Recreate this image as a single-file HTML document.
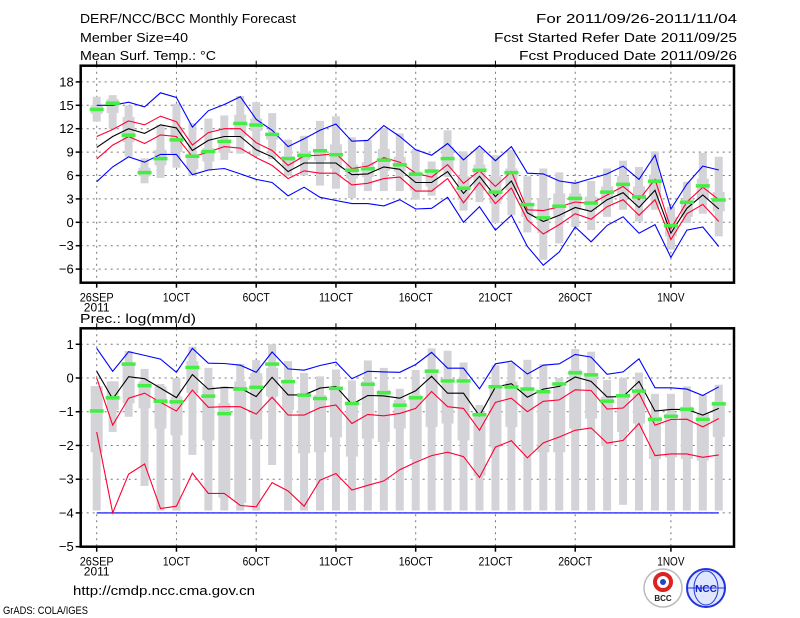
<!DOCTYPE html>
<html><head><meta charset="utf-8"><style>
html,body{margin:0;padding:0;background:#fff;}
svg{display:block;font-family:"Liberation Sans Narrow","Liberation Sans",sans-serif;}
</style></head><body>
<svg id="chart" width="800" height="618" viewBox="0 0 800 618" xmlns="http://www.w3.org/2000/svg">
<rect width="800" height="618" fill="#fff"/>
<g font-size="13" fill="#000">
<text x="80" y="23" textLength="216" lengthAdjust="spacingAndGlyphs">DERF/NCC/BCC Monthly Forecast</text>
<text x="80" y="42" textLength="108" lengthAdjust="spacingAndGlyphs">Member Size=40</text>
<text x="80" y="60" textLength="136" lengthAdjust="spacingAndGlyphs">Mean Surf. Temp.: °C</text>
<text x="536" y="23" textLength="201" lengthAdjust="spacingAndGlyphs">For 2011/09/26-2011/11/04</text>
<text x="494" y="42" textLength="243" lengthAdjust="spacingAndGlyphs">Fcst Started Refer Date 2011/09/25</text>
<text x="519" y="60" textLength="218" lengthAdjust="spacingAndGlyphs">Fcst Produced Date 2011/09/26</text>
<text x="80" y="323" textLength="116" lengthAdjust="spacingAndGlyphs">Prec.: log(mm/d)</text>
<text x="73" y="595" textLength="182" lengthAdjust="spacingAndGlyphs">http://cmdp.ncc.cma.gov.cn</text>
<text x="3" y="614" font-size="11" textLength="85" lengthAdjust="spacingAndGlyphs">GrADS: COLA/IGES</text>
</g>
<g>
<circle cx="663" cy="588" r="19" fill="#fff" stroke="#bbb" stroke-width="1.5"/>
<circle cx="663" cy="582" r="8" fill="none" stroke="#d22" stroke-width="4"/>
<circle cx="663" cy="582" r="3" fill="#2344c8"/>
<text x="663" y="601" font-size="8" text-anchor="middle" fill="#222" font-weight="bold">BCC</text>
</g>
<g>
<circle cx="706" cy="588" r="19" fill="#dfe6ff" stroke="#2233dd" stroke-width="2"/>
<ellipse cx="706" cy="588" rx="12" ry="17" fill="none" stroke="#2233dd" stroke-width="1"/>
<line x1="688" y1="588" x2="724" y2="588" stroke="#2233dd"/>
<text x="706" y="592" font-size="10" text-anchor="middle" fill="#1122cc" font-weight="bold">NCC</text>
</g>
<g id="top"></g>
<g id="bot"></g>
</svg>
<script>
// ---- data: temperature panel ----
const days = [0,1,2,3,4,5,6,7,8,9,10,11,12,13,14,15,16,17,18,19,20,21,22,23,24,25,26,27,28,29,30,31,32,33,34,35,36,37,38,39];
const xTickLabels = ["26SEP","1OCT","6OCT","11OCT","16OCT","21OCT","26OCT","1NOV"];
const xTickDays = [0,5,10,15,20,25,30,36];
const tTicks = [18,15,12,9,6,3,0,-3,-6];
const pTicks = [1,0,-1,-2,-3,-4,-5];
const tBlueHi = [15.0,15.0,15.4,14.8,16.6,16.0,12.2,14.3,15.1,16.1,13.2,11.8,9.7,10.7,11.8,12.6,10.4,10.5,12.4,11.0,9.3,8.6,10.1,8.0,9.8,7.9,9.7,6.3,6.2,5.3,5.0,5.6,6.2,7.2,5.5,8.6,1.7,4.9,7.2,6.7];
const tRedHi = [11.0,11.9,13.0,12.5,13.6,12.9,9.9,11.5,12.0,12.0,10.2,9.2,7.3,8.5,8.6,8.8,6.9,7.2,8.3,7.7,6.3,5.8,7.4,5.0,6.6,4.6,6.5,1.6,1.5,2.0,2.6,2.4,3.5,4.6,2.9,5.5,-0.8,2.6,4.5,2.9];
const tMean = [9.6,11.0,12.0,11.4,12.5,12.1,9.2,10.5,11.0,11.0,9.3,8.4,6.5,7.6,7.6,7.6,6.1,6.2,7.1,6.8,5.1,5.1,6.5,3.7,5.9,3.3,5.3,1.2,0.1,0.9,1.9,1.4,2.9,3.8,1.9,4.1,-1.4,1.8,3.5,1.7];
const tRedLo = [8.1,9.9,11.0,10.1,11.2,11.0,8.4,9.0,9.7,9.5,8.3,7.3,5.6,6.6,6.3,6.3,4.8,5.0,5.6,5.8,4.0,4.0,5.6,2.5,5.1,2.4,4.4,0.3,-1.5,-0.3,1.1,0.4,2.0,2.9,0.9,2.9,-2.2,1.1,2.3,0.1];
const tBlueLo = [5.2,7.1,8.4,7.7,8.7,8.7,6.1,6.7,6.9,6.2,5.5,5.1,3.4,4.5,3.2,2.8,2.4,2.4,2.1,2.9,1.7,1.8,3.2,0.0,2.0,-1.0,0.9,-3.1,-5.5,-3.8,-0.6,-2.5,-0.4,0.7,-1.4,-0.3,-4.5,-1.0,-0.6,-3.1];
const tMax = [16.1,16.3,15.0,8.2,12.5,15.2,12.7,13.3,13.7,16.2,15.4,14.0,10.6,11.1,13.0,13.6,10.9,10.6,12.1,11.4,9.4,7.8,11.8,9.1,9.5,8.6,9.3,5.9,6.9,6.4,5.2,5.3,6.9,7.9,7.1,9.1,2.0,5.2,8.9,8.4];
const tQ3 = [15.0,15.8,13.5,7.0,9.3,12.2,8.8,9.5,10.6,13.8,13.3,11.5,8.5,9.0,9.4,10.0,7.4,7.7,9.4,8.4,6.5,6.7,9.7,5.9,7.4,5.9,6.9,2.4,3.1,3.7,3.7,3.3,4.6,5.9,4.6,6.1,0.7,2.9,5.6,3.9];
const tQ1 = [13.9,14.0,10.3,5.9,7.3,9.0,6.8,7.8,8.9,11.0,11.7,10.6,7.0,8.0,7.9,6.9,5.6,5.8,6.6,6.5,4.1,4.6,6.7,2.9,4.1,2.4,4.1,0.7,-1.4,0.7,1.6,1.6,2.4,3.3,2.6,3.3,-1.8,0.7,2.9,1.4];
const tMin = [12.9,12.0,8.4,5.0,5.7,7.0,6.0,6.6,8.0,8.8,8.5,8.1,5.9,6.0,4.7,4.3,3.1,4.0,4.0,4.0,2.9,3.4,5.8,1.5,2.6,-0.1,0.9,-1.3,-4.8,-2.7,-0.6,-1.0,0.7,1.6,0.1,1.6,-3.5,-0.1,1.1,-1.8];
const tGreen = [14.5,15.3,11.2,6.4,8.2,10.6,8.5,9.1,10.4,12.7,12.5,11.3,8.2,8.6,9.2,8.7,6.7,6.9,8.0,7.4,6.2,6.6,8.2,4.4,6.7,3.9,6.4,2.3,0.6,2.1,3.1,2.5,3.9,4.9,3.3,5.3,-0.4,2.6,4.7,2.9];
// ---- data: precipitation panel ----
const pBlueHi = [0.88,0.2,0.78,0.67,0.56,0.17,0.88,0.44,0.43,0.38,0.17,0.77,0.27,0.23,0.37,0.47,-0.02,0.2,0.18,0.17,0.4,0.76,0.29,0.29,-0.32,0.42,0.5,0.12,0.38,0.42,0.7,0.62,0.11,0.18,0.57,-0.29,-0.29,-0.33,-0.52,-0.26];
const pRedHi = [0.0,-1.4,-0.6,-0.45,-0.72,-0.98,-0.36,-0.87,-0.85,-0.85,-1.07,-0.57,-1.1,-1.1,-0.88,-0.8,-1.35,-1.08,-1.12,-1.05,-0.9,-0.4,-0.85,-0.9,-1.55,-0.72,-0.6,-1.0,-0.69,-0.65,-0.35,-0.37,-0.92,-0.89,-0.45,-1.4,-1.23,-1.22,-1.45,-1.2];
const pMean = [0.2,-0.62,0.04,-0.02,-0.3,-0.58,0.1,-0.33,-0.28,-0.3,-0.55,0.02,-0.5,-0.5,-0.3,-0.25,-0.78,-0.52,-0.53,-0.6,-0.38,0.05,-0.45,-0.45,-1.12,-0.27,-0.17,-0.57,-0.33,-0.25,0.03,-0.1,-0.56,-0.55,-0.1,-0.98,-0.93,-0.93,-1.1,-0.9];
const pRedLo = [-1.6,-4.0,-2.85,-2.55,-3.87,-3.8,-2.82,-3.42,-3.42,-3.78,-3.82,-3.1,-3.35,-3.8,-3.03,-2.83,-3.32,-3.18,-3.05,-2.72,-2.5,-2.3,-2.2,-2.33,-2.95,-2.05,-1.86,-2.37,-1.92,-1.75,-1.55,-1.48,-1.93,-1.85,-1.35,-2.3,-2.25,-2.25,-2.35,-2.28];
const pBlueLo = [-4,-4,-4,-4,-4,-4,-4,-4,-4,-4,-4,-4,-4,-4,-4,-4,-4,-4,-4,-4,-4,-4,-4,-4,-4,-4,-4,-4,-4,-4,-4,-4,-4,-4,-4,-4,-4,-4,-4,-4];
const pMax = [-0.24,-0.1,0.8,0.27,-0.18,0,0.93,0.3,-0.25,0.42,0.53,1.0,0.5,0.15,0.05,0.25,-0.07,0.52,0.3,-0.32,0.24,0.88,0.81,0.46,-0.8,0.38,0.46,0.54,0.41,0,0.86,0.78,-0.06,0.01,0.16,-0.47,-0.47,-0.25,-0.5,-0.2];
const pQ3 = [-0.24,-0.1,0.4,-0.1,-0.25,-0.55,0.5,-0.25,-0.75,-0.1,0.14,0.3,-0.1,-0.52,-0.5,-0.25,-0.7,-0.1,-0.35,-0.65,-0.5,0.2,-0.15,-0.15,-1.1,-0.25,-0.1,-0.3,-0.35,-0.25,0.25,0.15,-0.55,-0.55,-0.35,-1.15,-1.05,-0.85,-1.05,-0.7];
const pQ1 = [-2.2,-0.95,-0.75,-0.9,-1.5,-1.7,-0.45,-1.85,-3.55,-3.7,-1.82,-0.55,-0.95,-2.23,-2.2,-1.76,-2.33,-1.8,-1.9,-1.5,-2.4,-1.45,-1.35,-1.85,-2.9,-2.05,-1.45,-2.2,-2.2,-2.2,-1.5,-1.2,-2.0,-1.6,-1.35,-2.4,-2.35,-2.4,-2.45,-1.75];
const pMin = [-3.93,-1.6,-1.15,-3.2,-3.93,-3.93,-2.28,-3.93,-3.93,-3.93,-3.93,-2.58,-3.93,-3.93,-3.93,-3.93,-3.93,-3.93,-3.93,-3.93,-3.93,-3.93,-3.93,-3.93,-3.93,-3.93,-3.93,-3.93,-3.93,-3.93,-3.93,-3.93,-3.93,-3.76,-3.93,-3.93,-3.93,-3.93,-3.93,-3.93];
const pGreen = [-0.97,-0.58,0.42,-0.22,-0.68,-0.7,0.32,-0.53,-1.05,-0.32,-0.27,0.42,-0.1,-0.5,-0.6,-0.3,-0.75,-0.18,-0.43,-0.8,-0.58,0.21,-0.08,-0.08,-1.08,-0.25,-0.26,-0.32,-0.4,-0.17,0.16,0.1,-0.68,-0.52,-0.38,-1.22,-1.13,-0.92,-1.22,-0.76];

const NS = "http://www.w3.org/2000/svg";
function mk(parent, tag, attrs){ const e=document.createElementNS(NS,tag); for(const k in attrs) e.setAttribute(k,attrs[k]); parent.appendChild(e); return e; }
const xOf = d => 96.7 + d*15.95;
const X0=80.7, X1=734;

function panel(g, cfg){
  const y = cfg.y;
  // grid
  cfg.ticks.forEach(v=>{
    if(v>cfg.lo && v<cfg.hi){
      const l=mk(g,"line",{x1:X0,x2:X1,y1:y(v),y2:y(v),stroke:"#777","stroke-dasharray":"2,4","stroke-width":1});
      
      
    }
    const t=mk(g,"line",{x1:X0-5,x2:X0,y1:y(v),y2:y(v),stroke:"#000","stroke-width":1.5});
    
    
    const tx=mk(g,"text",{x:X0-7,y:y(v)+4.5,"text-anchor":"end","font-size":13});
    tx.textContent = v<0 ? "\u2212"+(-v) : String(v);
    
    
  });
  xTickDays.forEach((d,i)=>{
    const l=mk(g,"line",{x1:xOf(d),x2:xOf(d),y1:cfg.top,y2:cfg.bot,stroke:"#777","stroke-dasharray":"2,4","stroke-width":1});
    
    
    const t=mk(g,"line",{x1:xOf(d),x2:xOf(d),y1:cfg.bot,y2:cfg.bot+5,stroke:"#000","stroke-width":1.5});
    
    
    const tt=mk(g,"line",{x1:xOf(d),x2:xOf(d),y1:cfg.top-5,y2:cfg.top,stroke:"#000","stroke-width":1});
    
    
    const tx=mk(g,"text",{x:xOf(d),y:cfg.bot+19,"text-anchor":"middle","font-size":12,textLength:xTickLabels[i].length*6.8,lengthAdjust:"spacingAndGlyphs"});
    tx.textContent=xTickLabels[i];
    
    
  });
  const yr=mk(g,"text",{x:xOf(0),y:cfg.bot+29,"text-anchor":"middle","font-size":12});
  yr.textContent="2011";
  
  
  // boxes
  days.forEach(i=>{
    const x=xOf(i);
    const n=mk(g,"rect",{x:x-4,width:8,y:y(cfg.max[i]),height:Math.max(0,y(cfg.min[i])-y(cfg.max[i])),fill:"#d4d4d8"});
    
    
    const w=mk(g,"rect",{x:x-6,width:12,y:y(cfg.q3[i]),height:Math.max(0,y(cfg.q1[i])-y(cfg.q3[i])),fill:"#d4d4d8"});
    
    
  });
  const line=(arr,col,name)=>{
    const p=mk(g,"polyline",{points:days.map(i=>xOf(i).toFixed(1)+","+y(arr[i]).toFixed(1)).join(" "),fill:"none",stroke:col,"stroke-width":1.1});
    
    
  };
  line(cfg.blueLo,"#0000ff","lower-bound-line");
  line(cfg.redLo,"#ff0033","lower-percentile-line");
  line(cfg.blueHi,"#0000ff","upper-bound-line");
  line(cfg.redHi,"#ff0033","upper-percentile-line");
  line(cfg.mean,"#000","ensemble-mean-line");
  days.forEach(i=>{
    const r=mk(g,"rect",{x:xOf(i)-7,width:14,y:y(cfg.green[i])-1.5,height:3.5,fill:"#44ee44"});
    
    
  });
  const f=mk(g,"rect",{x:X0,y:cfg.top,width:X1-X0,height:cfg.bot-cfg.top,fill:"none",stroke:"#000","stroke-width":2.5});
  
  
}
const gt=document.getElementById("top");


panel(gt,{y:v=>222.3-v*7.8,top:65.7,bot:282.7,lo:-7.7,hi:20,ticks:tTicks,
  blueHi:tBlueHi,redHi:tRedHi,mean:tMean,redLo:tRedLo,blueLo:tBlueLo,max:tMax,q3:tQ3,q1:tQ1,min:tMin,green:tGreen});
const gb=document.getElementById("bot");


panel(gb,{y:v=>378-v*33.73,top:328.3,bot:546.7,lo:-5,hi:1.5,ticks:pTicks,
  blueHi:pBlueHi,redHi:pRedHi,mean:pMean,redLo:pRedLo,blueLo:pBlueLo,max:pMax,q3:pQ3,q1:pQ1,min:pMin,green:pGreen});
</script>
</body></html>
